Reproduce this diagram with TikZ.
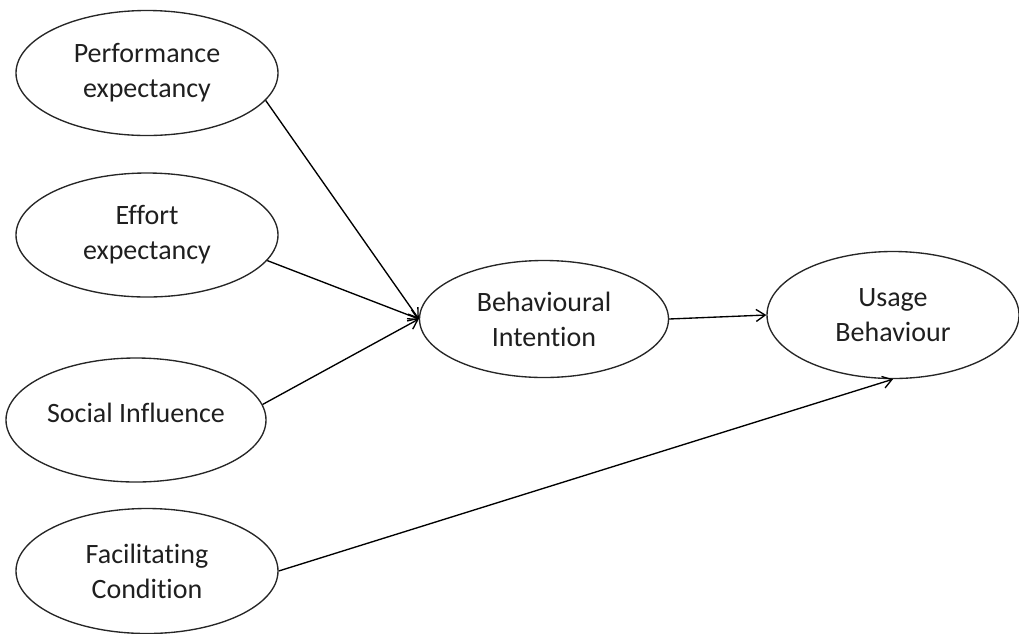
\documentclass[tikz,border=0pt]{standalone}
\usepackage{fontspec}
\setmainfont{Carlito}[Ligatures=NoCommon]
\usetikzlibrary{shapes.geometric,arrows.meta}

\begin{document}
\begin{tikzpicture}[>={Straight Barb[length=9pt,width=12pt]}, x=1pt, y=-1pt, line width=1.35pt,
    construct/.style={ellipse, draw=black!85, inner sep=0pt, align=center, text=black!88,
        font=\fontsize{28}{35}\selectfont}]
    \useasboundingbox (0,0) rectangle (1019,633);

    % Constructs on the left
    \node[construct, minimum width=262pt, minimum height=125pt] (pe) at (147,73) {Performance\\expectancy};
    \node[construct, minimum width=262pt, minimum height=124pt] (ee) at (147,235) {Effort\\expectancy};
    \node[construct, minimum width=260pt, minimum height=124pt, text depth=14pt] (si) at (136,420) {Social Influence};
    \node[construct, minimum width=262pt, minimum height=125pt] (fc) at (147,571) {Facilitating\\Condition};

    % Constructs on the right
    \node[construct, minimum width=249pt, minimum height=117pt] (bi) at (544,319) {Behavioural\\Intention};
    \node[construct, minimum width=252pt, minimum height=127pt] (ub) at (893,315) {Usage\\Behaviour};

    % Paths
    \draw[->] (pe.-13) -- (bi.west);
    \draw[->] (ee.-12) -- (bi.west);
    \draw[->] (si.7) -- (bi.west);
    \draw[->] (bi.east) -- (ub.west);
    \draw[->] (fc.east) -- (ub.south);
\end{tikzpicture}
\end{document}
